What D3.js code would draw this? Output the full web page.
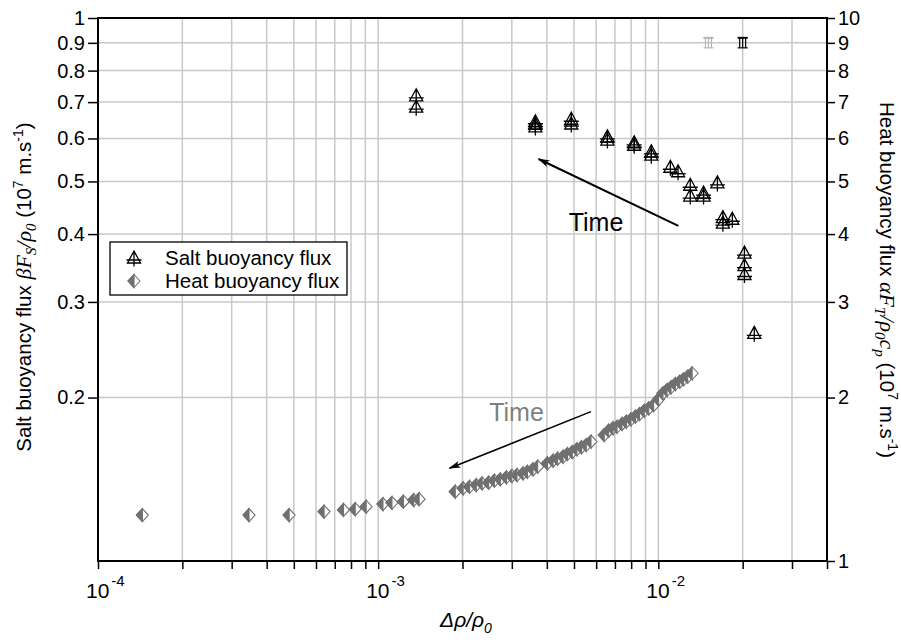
<!DOCTYPE html>
<html>
<head>
<meta charset="utf-8">
<script src="https://cdn.jsdelivr.net/npm/d3@7"></script>
<style>
body { margin: 0; background: #fff; }
text { font-family: "Liberation Sans", Arial, sans-serif; }
</style>
</head>
<body>
<script>
var w = 901, h = 643;
var plotLeft = 98, plotRight = 827, plotTop = 18, plotBottom = 561;

// salt buoyancy flux (left axis)
var saltX = [0.001367, 0.001367, 0.00364, 0.00364, 0.00364, 0.00489, 0.00489, 0.00658, 0.00658,
  0.0082, 0.0082, 0.00944, 0.00944, 0.01104, 0.01176, 0.0130, 0.0130, 0.0145, 0.0145, 0.01625,
  0.0170, 0.0170, 0.01837, 0.0203, 0.0203, 0.0203, 0.0220];
var saltY = [0.719, 0.685, 0.644, 0.637, 0.630, 0.651, 0.638, 0.604, 0.596,
  0.589, 0.583, 0.567, 0.559, 0.531, 0.521, 0.492, 0.470, 0.476, 0.470, 0.497,
  0.429, 0.419, 0.426, 0.369, 0.350, 0.337, 0.2626];

// heat buoyancy flux (right axis)
var heatX = [1.44e-4, 3.46e-4, 4.81e-4, 6.41e-4, 7.52e-4, 8.28e-4, 9.06e-4, 1.04e-3, 1.12e-3, 1.23e-3, 1.34e-3, 1.40e-3,
  1.884e-3, 2.01e-3, 2.12e-3, 2.24e-3, 2.35e-3, 2.48e-3, 2.60e-3, 2.73e-3, 2.87e-3, 3.00e-3, 3.13e-3, 3.29e-3, 3.41e-3, 3.57e-3, 3.71e-3,
  4.02e-3, 4.21e-3, 4.37e-3, 4.57e-3, 4.74e-3, 4.93e-3, 5.12e-3, 5.32e-3, 5.53e-3, 5.75e-3,
  6.41e-3, 6.65e-3, 6.89e-3, 7.12e-3, 7.42e-3, 7.69e-3, 7.99e-3, 8.28e-3, 8.57e-3, 8.91e-3, 9.24e-3, 9.62e-3,
  1.002e-2, 1.039e-2, 1.074e-2, 1.110e-2, 1.150e-2, 1.192e-2, 1.231e-2, 1.273e-2, 1.320e-2];
var heatY = [1.215, 1.215, 1.215, 1.233, 1.242, 1.246, 1.259, 1.273, 1.28, 1.286, 1.295, 1.30,
  1.342, 1.361, 1.370, 1.380, 1.390, 1.394, 1.406, 1.414, 1.426, 1.434, 1.440, 1.450, 1.460, 1.475, 1.492,
  1.513, 1.530, 1.543, 1.556, 1.574, 1.587, 1.606, 1.620, 1.635, 1.659,
  1.706, 1.738, 1.756, 1.767, 1.788, 1.805, 1.824, 1.844, 1.865, 1.891, 1.910, 1.937,
  1.985, 2.036, 2.065, 2.089, 2.118, 2.139, 2.161, 2.185, 2.217];

// error bar symbols near the top (left axis units)
var errX = [0.0151, 0.0200];
var errY = [0.9, 0.9];

var xMajor = [1e-4, 1e-3, 1e-2];
var xMajorExp = ["-4", "-3", "-2"];
var leftTicks = [0.2, 0.3, 0.4, 0.5, 0.6, 0.7, 0.8, 0.9, 1];
var rightTicks = [1, 2, 3, 4, 5, 6, 7, 8, 9, 10];
var legendLabels = ["Salt buoyancy flux", "Heat buoyancy flux"];

var xTicks = [];
[1e-4, 1e-3, 1e-2].forEach(function(d) {
  for (var m = 1; m <= 9; m++) if (d * m <= 0.04 + 1e-9) xTicks.push(d * m);
});

var x = d3.scaleLog().domain([1e-4, 0.04]).range([plotLeft, plotRight]);
var yL = d3.scaleLog().domain([0.1, 1]).range([plotBottom, plotTop]);
var yR = d3.scaleLog().domain([1, 10]).range([plotBottom, plotTop]);

var svg = d3.select("body").append("svg")
  .attr("width", w).attr("height", h);

var defs = svg.append("defs");
defs.append("marker")
  .attr("id", "arrow")
  .attr("viewBox", "0 -5 12 10")
  .attr("refX", 11).attr("refY", 0)
  .attr("markerWidth", 12).attr("markerHeight", 10)
  .attr("markerUnits", "userSpaceOnUse")
  .attr("orient", "auto")
  .append("path")
  .attr("d", "M0,-3.5 L12,0 L0,3.5 L3,0 Z")
  .attr("fill", "#000");

// grid
svg.append("g")
  .selectAll("line")
  .data(xTicks.filter(function(d) { return d > 1e-4; }))
  .enter().append("line")
  .attr("x1", function(d) { return x(d); }).attr("x2", function(d) { return x(d); })
  .attr("y1", plotTop).attr("y2", plotBottom)
  .attr("stroke", "#c8c8c8").attr("stroke-width", 1.5);

svg.append("g")
  .selectAll("line")
  .data(leftTicks.filter(function(d) { return d < 1; }))
  .enter().append("line")
  .attr("x1", plotLeft).attr("x2", plotRight)
  .attr("y1", function(d) { return yL(d); }).attr("y2", function(d) { return yL(d); })
  .attr("stroke", "#c8c8c8").attr("stroke-width", 1.5);

// axes
var axL = svg.append("g")
  .attr("transform", "translate(" + plotLeft + ",0)")
  .call(d3.axisLeft(yL).tickValues(leftTicks).tickSize(10).tickSizeOuter(0).tickPadding(3)
    .tickFormat(function(d) { return d; }));

var axR = svg.append("g")
  .attr("transform", "translate(" + plotRight + ",0)")
  .call(d3.axisRight(yR).tickValues(rightTicks).tickSize(8).tickSizeOuter(0).tickPadding(3)
    .tickFormat(function(d) { return d; }));

var axB = svg.append("g")
  .attr("transform", "translate(0," + plotBottom + ")")
  .call(d3.axisBottom(x).tickValues(xTicks).tickSize(8).tickSizeOuter(0)
    .tickFormat(function() { return ""; }));

[axL, axR, axB].forEach(function(a) {
  a.selectAll("text").attr("font-size", 20).attr("fill", "#000")
    .style("font-family", "'Liberation Sans', Arial, sans-serif");
  a.selectAll(".tick line").attr("stroke", "#000").attr("stroke-width", 1.5);
  a.select(".domain").remove();
});

// frame
svg.append("rect")
  .attr("x", plotLeft).attr("y", plotTop)
  .attr("width", plotRight - plotLeft).attr("height", plotBottom - plotTop)
  .attr("fill", "none").attr("stroke", "#000").attr("stroke-width", 2);

// x tick labels 10^n
var xl = svg.append("g");
xMajor.forEach(function(d, i) {
  var t = xl.append("text")
    .attr("x", x(d) - 12).attr("y", plotBottom + 37)
    .attr("font-size", 21);
  t.append("tspan").text("10");
  t.append("tspan").attr("dy", -12).attr("dx", 2).attr("font-size", 15).text(xMajorExp[i]);
});

// x title
var xt = svg.append("text")
  .attr("x", 466).attr("y", 627)
  .attr("text-anchor", "middle")
  .attr("font-size", 21).attr("font-style", "italic");
xt.append("tspan").text("\u0394\u03c1/\u03c1");
xt.append("tspan").attr("dy", 6).attr("font-size", 14).text("0");

// left title
var serif = "'Liberation Serif', serif";
var lt = svg.append("text")
  .attr("transform", "translate(31,287) rotate(-90)")
  .attr("text-anchor", "middle")
  .attr("font-size", 20.5);
lt.append("tspan").text("Salt buoyancy flux ");
lt.append("tspan").attr("font-family", serif).attr("font-style", "italic").attr("font-size", 22).text("\u03b2F");
lt.append("tspan").attr("font-family", serif).attr("font-style", "italic").attr("font-size", 15).attr("dy", 5).text("S");
lt.append("tspan").attr("font-family", serif).attr("font-style", "italic").attr("font-size", 22).attr("dy", -5).text("/\u03c1");
lt.append("tspan").attr("font-family", serif).attr("font-style", "italic").attr("font-size", 15).attr("dy", 5).text("0");
lt.append("tspan").attr("dy", -5).text(" (10");
lt.append("tspan").attr("dy", -8).attr("font-size", 14).text("7");
lt.append("tspan").attr("dy", 8).text(" m.s");
lt.append("tspan").attr("dy", -8).attr("font-size", 14).text("-1");
lt.append("tspan").attr("dy", 8).text(")");

// right title
var rt = svg.append("text")
  .attr("transform", "translate(880,280) rotate(90)")
  .attr("text-anchor", "middle")
  .attr("font-size", 20.5);
rt.append("tspan").text("Heat buoyancy flux ");
rt.append("tspan").attr("font-family", serif).attr("font-style", "italic").attr("font-size", 22).text("\u03b1F");
rt.append("tspan").attr("font-family", serif).attr("font-style", "italic").attr("font-size", 15).attr("dy", 5).text("T");
rt.append("tspan").attr("font-family", serif).attr("font-style", "italic").attr("font-size", 22).attr("dy", -5).text("/\u03c1");
rt.append("tspan").attr("font-family", serif).attr("font-style", "italic").attr("font-size", 15).attr("dy", 5).text("0");
rt.append("tspan").attr("font-family", serif).attr("font-style", "italic").attr("font-size", 22).attr("dy", -5).text("c");
rt.append("tspan").attr("font-family", serif).attr("font-style", "italic").attr("font-size", 15).attr("dy", 5).text("p");
rt.append("tspan").attr("dy", -5).text(" (10");
rt.append("tspan").attr("dy", -8).attr("font-size", 14).text("7");
rt.append("tspan").attr("dy", 8).text(" m.s");
rt.append("tspan").attr("dy", -8).attr("font-size", 14).text("-1");
rt.append("tspan").attr("dy", 8).text(")");

// marker symbols
var saltPath = "M0,-7 L6.5,5 L-6.5,5 Z M0,-7 L0,8.5 M-7.5,2 L7.5,2";
function drawHeat(g) {
  g.append("path").attr("d", "M0,-6.5 L6,0 L0,6.5 L-6,0 Z")
    .attr("fill", "#fff").attr("stroke", "#707070").attr("stroke-width", 1.1);
  g.append("path").attr("d", "M0,-6.5 L-6,0 L0,6.5 Z")
    .attr("fill", "#707070").attr("stroke", "#707070").attr("stroke-width", 1.1);
}
function drawSalt(g) {
  g.append("path").attr("d", saltPath)
    .attr("fill", "none").attr("stroke", "#000").attr("stroke-width", 1.3);
}

// heat points
svg.append("g").selectAll("g")
  .data(heatX.map(function(d, i) { return [d, heatY[i]]; }))
  .enter().append("g")
  .attr("transform", function(d) { return "translate(" + x(d[0]) + "," + yR(d[1]) + ")"; })
  .each(function() { drawHeat(d3.select(this)); });

// salt points
svg.append("g").selectAll("g")
  .data(saltX.map(function(d, i) { return [d, saltY[i]]; }))
  .enter().append("g")
  .attr("transform", function(d) { return "translate(" + x(d[0]) + "," + yL(d[1]) + ")"; })
  .each(function() { drawSalt(d3.select(this)); });

// error bar symbols
errX.forEach(function(d, i) {
  var c = i === 0 ? "#b4b4b4" : "#000";
  var g = svg.append("g").attr("transform", "translate(" + x(d) + "," + yL(errY[i]) + ")")
    .attr("stroke", c).attr("stroke-width", 1.2);
  g.append("line").attr("x1", -5).attr("x2", 5).attr("y1", -5).attr("y2", -5).attr("stroke-width", 2);
  g.append("line").attr("x1", -5).attr("x2", 5).attr("y1", 5).attr("y2", 5);
  [-3, 0, 3].forEach(function(o) {
    g.append("line").attr("x1", o).attr("x2", o).attr("y1", -5).attr("y2", 5);
  });
});

// time arrows
svg.append("line")
  .attr("x1", x(0.01179)).attr("y1", yL(0.414))
  .attr("x2", x(0.003737)).attr("y2", yL(0.5499))
  .attr("stroke", "#000").attr("stroke-width", 2).attr("marker-end", "url(#arrow)");
svg.append("text")
  .attr("x", x(0.0075)).attr("y", yL(0.405))
  .attr("text-anchor", "end").attr("font-size", 25).text("Time");

svg.append("line")
  .attr("x1", x(0.00575)).attr("y1", yR(1.884))
  .attr("x2", x(0.001797)).attr("y2", yR(1.482))
  .attr("stroke", "#000").attr("stroke-width", 1.6).attr("marker-end", "url(#arrow)");
svg.append("text")
  .attr("x", x(0.00249)).attr("y", yR(1.811))
  .attr("font-size", 25).attr("fill", "#808080").text("Time");

// legend
var lg = svg.append("g");
lg.append("rect")
  .attr("x", 110).attr("y", 242).attr("width", 237).attr("height", 53)
  .attr("fill", "#fff").attr("stroke", "#000").attr("stroke-width", 1.3);
legendLabels.forEach(function(d, i) {
  var cy = 258 + i * 23;
  var g = lg.append("g").attr("transform", "translate(134," + cy + ")");
  if (i === 0) drawSalt(g); else drawHeat(g);
  lg.append("text").attr("x", 165).attr("y", cy + 7).attr("font-size", 20.5).text(d);
});
</script>
</body>
</html>
